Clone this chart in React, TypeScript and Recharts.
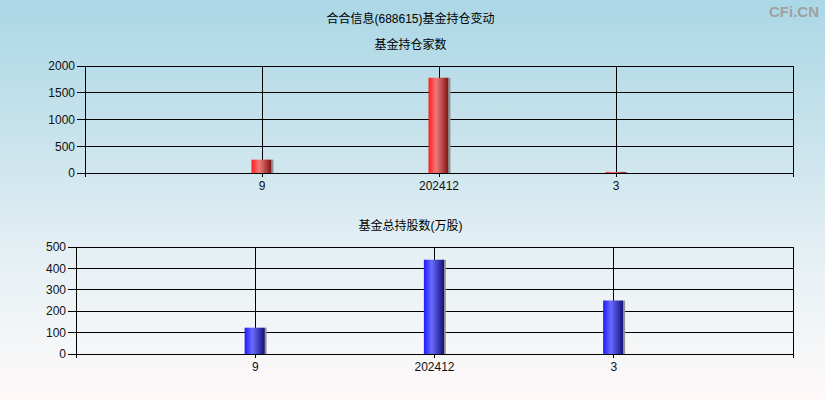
import React from 'react';
import { BarChart, Bar, XAxis, YAxis, CartesianGrid } from 'recharts';

const periods = ['9', '202412', '3'];
const fundCounts = [250, 1780, 20];
const fundShares = [123, 440, 250];
const countTicks = [0, 500, 1000, 1500, 2000];
const shareTicks = [0, 100, 200, 300, 400, 500];

const countData = periods.map((p, i) => ({ x: i + 1, label: p, value: fundCounts[i] }));
const shareData = periods.map((p, i) => ({ x: i + 1, label: p, value: fundShares[i] }));

const fontFamily = 'Arial, "Liberation Sans", "Noto Sans CJK SC", sans-serif';
const tickStyle = { fontSize: 12, fill: '#111', fontFamily };

const xLabel = (v: number) => (v >= 1 && v <= periods.length ? periods[v - 1] : '');

const crisp =
  '.recharts-cartesian-grid line, .recharts-cartesian-axis-line, .recharts-cartesian-axis-tick-line { shape-rendering: crispEdges; }';

function Grad({ id, c1, c2, c3 }: { id: string; c1: string; c2: string; c3: string }) {
  return (
    <linearGradient id={id} x1="0" y1="0" x2="1" y2="0">
      <stop offset="0%" stopColor={c1} />
      <stop offset="35%" stopColor={c2} />
      <stop offset="90%" stopColor={c3} />
      <stop offset="91%" stopColor="#8a8a8a" />
      <stop offset="100%" stopColor="#9a9a9a" />
    </linearGradient>
  );
}

function Panel({ data, ticks, max, yWidth, gradId, colors }: any) {
  return (
    <BarChart width={825} height={144} data={data} margin={{ top: 10, right: 32, left: 0, bottom: 3 }}>
      <defs>
        <Grad id={gradId} c1={colors[0]} c2={colors[1]} c3={colors[2]} />
      </defs>
      <CartesianGrid stroke="#000" strokeWidth={1} />
      <XAxis
        dataKey="x"
        type="number"
        domain={[0, 4]}
        ticks={[0, 1, 2, 3, 4]}
        tickFormatter={xLabel}
        tickSize={4}
        tickMargin={4}
        height={24}
        stroke="#000"
        tick={tickStyle}
      />
      <YAxis
        domain={[0, max]}
        ticks={ticks}
        width={yWidth}
        tickSize={8}
        tickMargin={2}
        stroke="#000"
        tick={tickStyle}
        interval={0}
      />
      <Bar dataKey="value" barSize={22} fill={`url(#${gradId})`} isAnimationActive={false} />
    </BarChart>
  );
}

export default function App() {
  return (
    <div
      style={{
        position: 'absolute',
        left: 0,
        top: 0,
        width: 825,
        height: 400,
        overflow: 'hidden',
        fontFamily,
        background: 'linear-gradient(to bottom, #abd7e6 0%, #c9e3ec 35%, #e6f0f4 65%, #f6f7f8 88%, #fff8f8 100%)',
      }}
    >
      <style>{crisp}</style>
      <div style={{ position: 'absolute', top: 9, left: 0, width: 825, textAlign: 'center', fontSize: 12 }}>
        <span style={{ position: 'relative', left: -2 }}>合合信息(688615)基金持仓变动</span>
      </div>
      <div style={{ position: 'absolute', top: 3, right: 6, fontSize: 15, fontWeight: 'bold', color: '#a0a0a0' }}>CFi.CN</div>
      <div style={{ position: 'absolute', top: 35, left: 0, width: 825, textAlign: 'center', fontSize: 12 }}>
        <span style={{ position: 'relative', left: -2 }}>基金持仓家数</span>
      </div>
      <div style={{ position: 'absolute', top: 56, left: 0 }}>
        <Panel data={countData} ticks={countTicks} max={2000} yWidth={85} gradId="redGrad" colors={['#ff1c1c', '#f07a7a', '#7c1414']} />
      </div>
      <div style={{ position: 'absolute', top: 216, left: 0, width: 825, textAlign: 'center', fontSize: 12 }}>
        <span style={{ position: 'relative', left: -2 }}>基金总持股数(万股)</span>
      </div>
      <div style={{ position: 'absolute', top: 237, left: 0 }}>
        <Panel data={shareData} ticks={shareTicks} max={500} yWidth={76} gradId="blueGrad" colors={['#1c1cff', '#6a6aff', '#14147c']} />
      </div>
    </div>
  );
}
